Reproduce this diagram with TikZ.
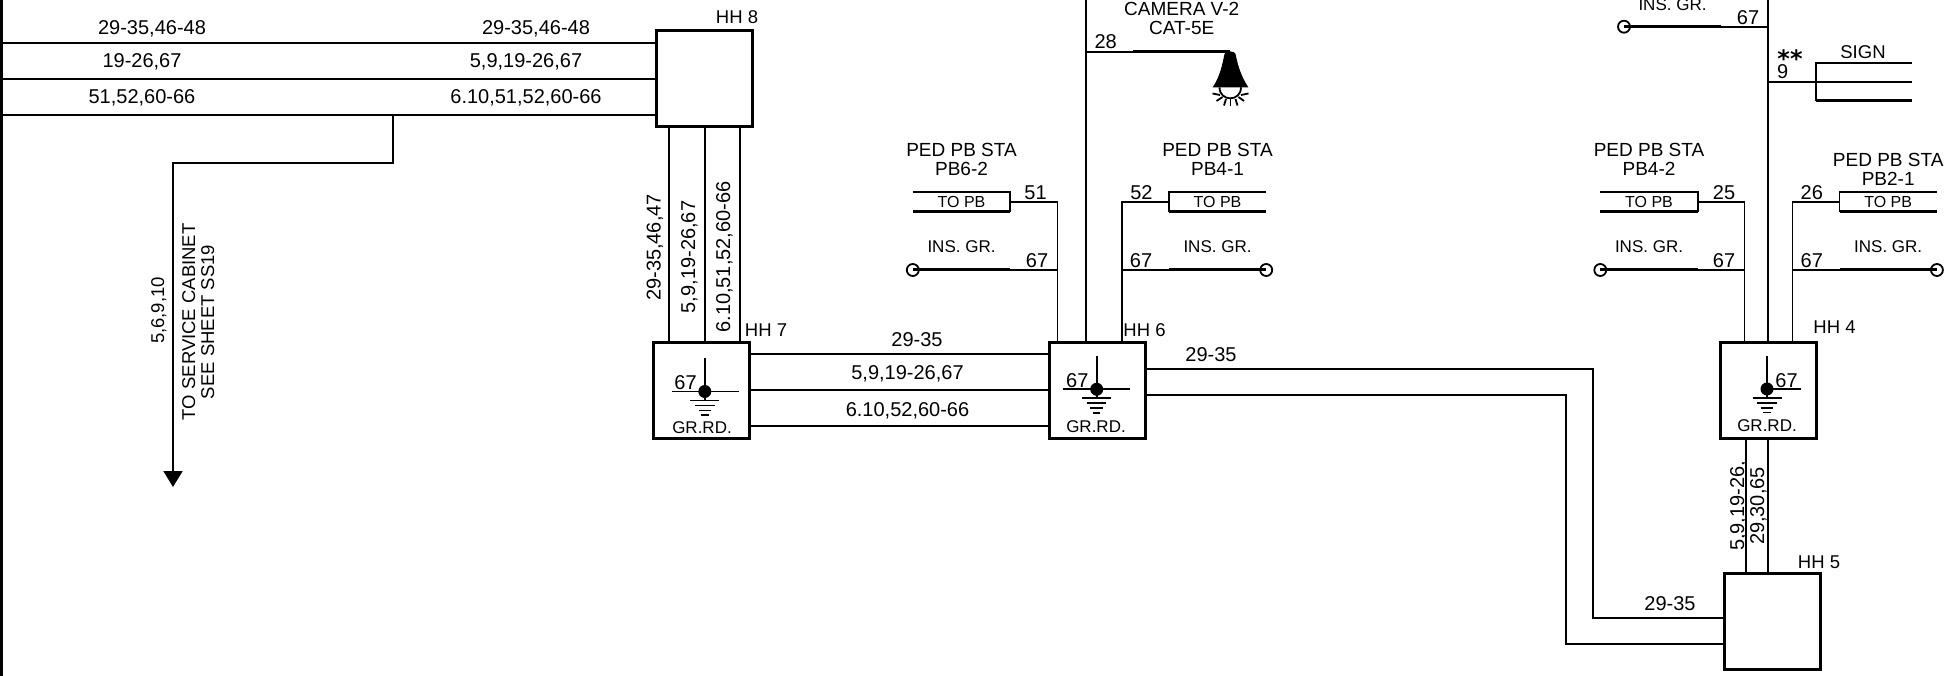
\documentclass[tikz,border=0pt]{standalone}
\usepackage{fontspec}
\setmainfont{Liberation Sans}
\newfontfamily\starfont{DejaVu Sans}
\usetikzlibrary{arrows.meta}
\tikzset{
  wire/.style={line width=1.8pt},
  mainwire/.style={line width=2.2pt},
  heavy/.style={line width=3pt},
  hhbox/.style={draw,line width=3pt,minimum size=96pt,inner sep=0pt,outer sep=0pt},
  cad/.style={inner sep=0pt,text height=14pt,text depth=0pt,font=\fontsize{20}{24}\selectfont},
  cadsmall/.style={cad,text height=12pt,font=\fontsize{17}{20}\selectfont},
  cadlong/.style={cad,rotate=90,font=\fontsize{18.5}{22}\selectfont},
  cadvert/.style={cad,rotate=90,font=\fontsize{20}{24}\selectfont},
  topb/.style={cadsmall,minimum width=97pt,minimum height=19.4pt,font=\fontsize{16}{20}\selectfont},
  insring/.style={circle,draw,line width=1.8pt,minimum size=12pt,inner sep=0pt,outer sep=0pt},
  gdot/.style={circle,fill=black,minimum size=13pt,inner sep=0pt,outer sep=0pt}
}
\begin{document}
\begin{tikzpicture}[x=1pt,y=-1pt]
\useasboundingbox (0,0) rectangle (1960,676);
\draw[heavy] (1,0) -- (1,676);
\node[hhbox] (hh8) at (704.5,78.7) {};
\node[hhbox] (hh7) at (701.6,390.7) {};
\node[hhbox] (hh6) at (1097.7,390.7) {};
\node[hhbox] (hh4) at (1768.6,390.7) {};
\node[hhbox] (hh5) at (1772.8,621.6) {};
\foreach \y in {43,79,114.7}
  \draw[wire] (0,\y) -- (hh8.west |- 0,\y);
\foreach \x in {669,705,740}
  \draw[wire] (hh8.south -| \x,0) -- (hh7.north -| \x,0);
\foreach \y in {354.3,390,426}
  \draw[wire] (hh7.east |- 0,\y) -- (hh6.west |- 0,\y);
\foreach \x in {1746.3,1768.3}
  \draw[wire] (hh4.south -| \x,0) -- (hh5.north -| \x,0);
\foreach \ya/\xa/\yb in {368.7/1593/617.7,394.7/1565.7/643.7}
  \draw[wire] (hh6.east |- 0,\ya) -| (\xa,\yb) -- (hh5.west |- 0,\yb);
\coordinate (tap) at (393,114.7);
\coordinate (svc) at (173,487);
\draw[wire,-{Triangle[length=16pt,width=19pt]}] (tap) |- (173,162.7) -- (svc);
\coordinate (up6) at (1086,0);
\coordinate (up4) at (1767.6,0);
\draw[mainwire] (up6) -- (up6 |- hh6.north);
\draw[mainwire] (up4) -- (up4 |- hh4.north);
\foreach \n/\s/\o/\xc/\xw/\hh/\ca/\xa/\xg/\title/\yt in {%
  pba/east/west/961.5/1057.5/hh6/51/1035.6/1037/PB6-2/150,
  pbb/west/east/1217.5/1122/hh6/52/1141.4/1141/PB4-1/150,
  pbc/east/west/1649/1744.4/hh4/25/1724/1724/PB4-2/150,
  pbd/west/east/1888.2/1792.4/hh4/26/1811.8/1811.8/PB2-1/159.3}{
  \node[topb] (tb\n) at (\xc,202) {TO PB};
  \draw[wire] (tb\n.north \o) -- (tb\n.north \s) -- (tb\n.south \s);
  \draw[heavy] (tb\n.south \o) -- (tb\n.south \s);
  \draw[wire] (\hh.north -| \xw,0) |- (tb\n.\s);
  \node[insring] (ring\n) at (tb\n.\o |- 0,270) {};
  \coordinate (end\n) at (tb\n.\s |- 0,270);
  \draw[heavy] (ring\n.center) -- (end\n);
  \draw[wire] (end\n) -- (\xw,270);
  \node[cad] (ca\n) at (\xa,193) {\ca};
  \node[cad] (gn\n) at (\xg,261) {67};
  \node[cadsmall] (ins\n) at (\xc,247) {INS. GR.};
  \node[cad,font=\fontsize{19}{22}\selectfont] (ped\n) at (\xc,\yt) {PED PB STA};
  \node[cad,font=\fontsize{19}{22}\selectfont] (id\n) at (\xc,\yt+19) {\title};
}
\foreach \g/\x/\y/\xl/\xr/\xn/\yn/\xt/\yt in {%
  a/704.8/391.5/671.8/739/685.6/382/702/427.7,
  b/1096.7/389.3/1063/1130/1077.3/380.7/1096/426,
  c/1767/389/1767/1800.8/1786.5/380/1767/425}{
  \node[gdot] (dot\g) at (\x,\y) {};
  \draw[wire] (dot\g.center) -- (\x,\y-33.5);
  \draw[wire] (\xl,\y) -- (\xr,\y);
  \draw[wire] (dot\g.center) -- (\x,\y+9);
  \foreach \d/\w in {9/14.5,14/9.7,19/6.3,23.5/3.7}
    \draw[wire] (\x-\w,\y+\d) -- (\x+\w,\y+\d);
  \node[cad] (gg\g) at (\xn,\yn) {67};
  \node[cadsmall] (rd\g) at (\xt,\yt) {GR.RD.};
}
\coordinate (camA) at (1133,51.7);
\coordinate (camB) at (1230,51.7);
\draw[wire] (up6 |- camA) -- (camA);
\draw[heavy] (camA) -- (camB);
\fill (1224.5,54) .. controls (1222,66) and (1220,76) .. (1212.7,87.3) -- (1248.3,87.3) .. controls (1241,76) and (1238,66) .. (1235.5,54) .. controls (1235,50.5) and (1225,50.5) .. (1224.5,54) -- cycle;
\draw[wire] (1219.5,87.3) .. controls (1219.5,102) and (1241,102) .. (1241,87.3);
\foreach \xa/\ya/\xb/\yb in {1212.5/93.5/1220/95,1216.5/101/1222.5/97,1224/105.5/1226/99,1230.5/106.5/1230.5/99,1237.5/105.5/1235.5/99,1244/101/1238.5/97,1248.5/93.5/1241/95}
  \draw[wire] (\xa,\ya) -- (\xb,\yb);
\node[cad,font=\fontsize{19}{22}\selectfont] (camt) at (1181.7,9) {CAMERA V-2};
\node[cad,font=\fontsize{19}{22}\selectfont] (camc) at (1181.7,28) {CAT-5E};
\node[cad] (cam28) at (1105.7,42) {28};
\node[insring] (ringt) at (1624,26.7) {};
\coordinate (endt) at (1721,26.7);
\draw[heavy] (ringt.center) -- (endt);
\draw[wire] (endt) -- (up4 |- endt);
\node[cadsmall] (inst) at (1672.5,5) {INS. GR.};
\node[cad] (gnt) at (1748,17.3) {67};
\coordinate (signA) at (1815.6,62.7);
\coordinate (signB) at (1912.4,62.7);
\coordinate (signC) at (1815.6,101);
\coordinate (signD) at (1912.4,101);
\coordinate (signE) at (1912.4,82.3);
\draw[wire] (signB) -- (signA) -- (signC);
\draw[heavy] (signC) -- (signD);
\draw[wire] (up4 |- signE) -- (signE);
\node[cad,font=\fontsize{18.5}{22}\selectfont] (signt) at (1863,51.7) {SIGN};
\node[inner sep=0pt,font=\starfont\bfseries\fontsize{24}{24}\selectfont] (stars) at (1790,59) {**};
\node[cad] (sign9) at (1782.7,71.7) {9};
\foreach \t/\x/\y [count=\i] in {%
  {HH 8}/737/17,{HH 7}/766/330,{HH 6}/1144.5/330,{HH 4}/1834.5/327,{HH 5}/1819/561.7}
  \node[cad,font=\fontsize{18.5}{22}\selectfont] (hhname\i) at (\x,\y) {\t};
\foreach \t/\x/\y [count=\i] in {%
  {29-35,46-48}/152/28,{19-26,67}/142/61,{51,52,60-66}/142/97,
  {29-35,46-48}/536/28,{5,9,19-26,67}/526/61,{6.10,51,52,60-66}/526/97,
  {29-35}/917/340,{5,9,19-26,67}/907.5/372.7,{6.10,52,60-66}/907.5/409,
  {29-35}/1211/355,{29-35}/1670/603}
  \node[cad] (cab\i) at (\x,\y) {\t};
\foreach \t/\x/\y [count=\i] in {%
  {5,6,9,10}/157/310.5,{TO SERVICE CABINET}/188/321.7,{SEE SHEET SS19}/207/322}
  \node[cadlong] (long\i) at (\x,\y) {\t};
\foreach \t/\x/\y [count=\i] in {%
  {29-35,46,47}/653.6/247.5,{5,9,19-26,67}/688/257,{6.10,51,52,60-66}/723/257,
  {5,9,19-26,}/1737/505.8,{29,30,65}/1757/506}
  \node[cadvert] (vert\i) at (\x,\y) {\t};
\end{tikzpicture}
\end{document}
